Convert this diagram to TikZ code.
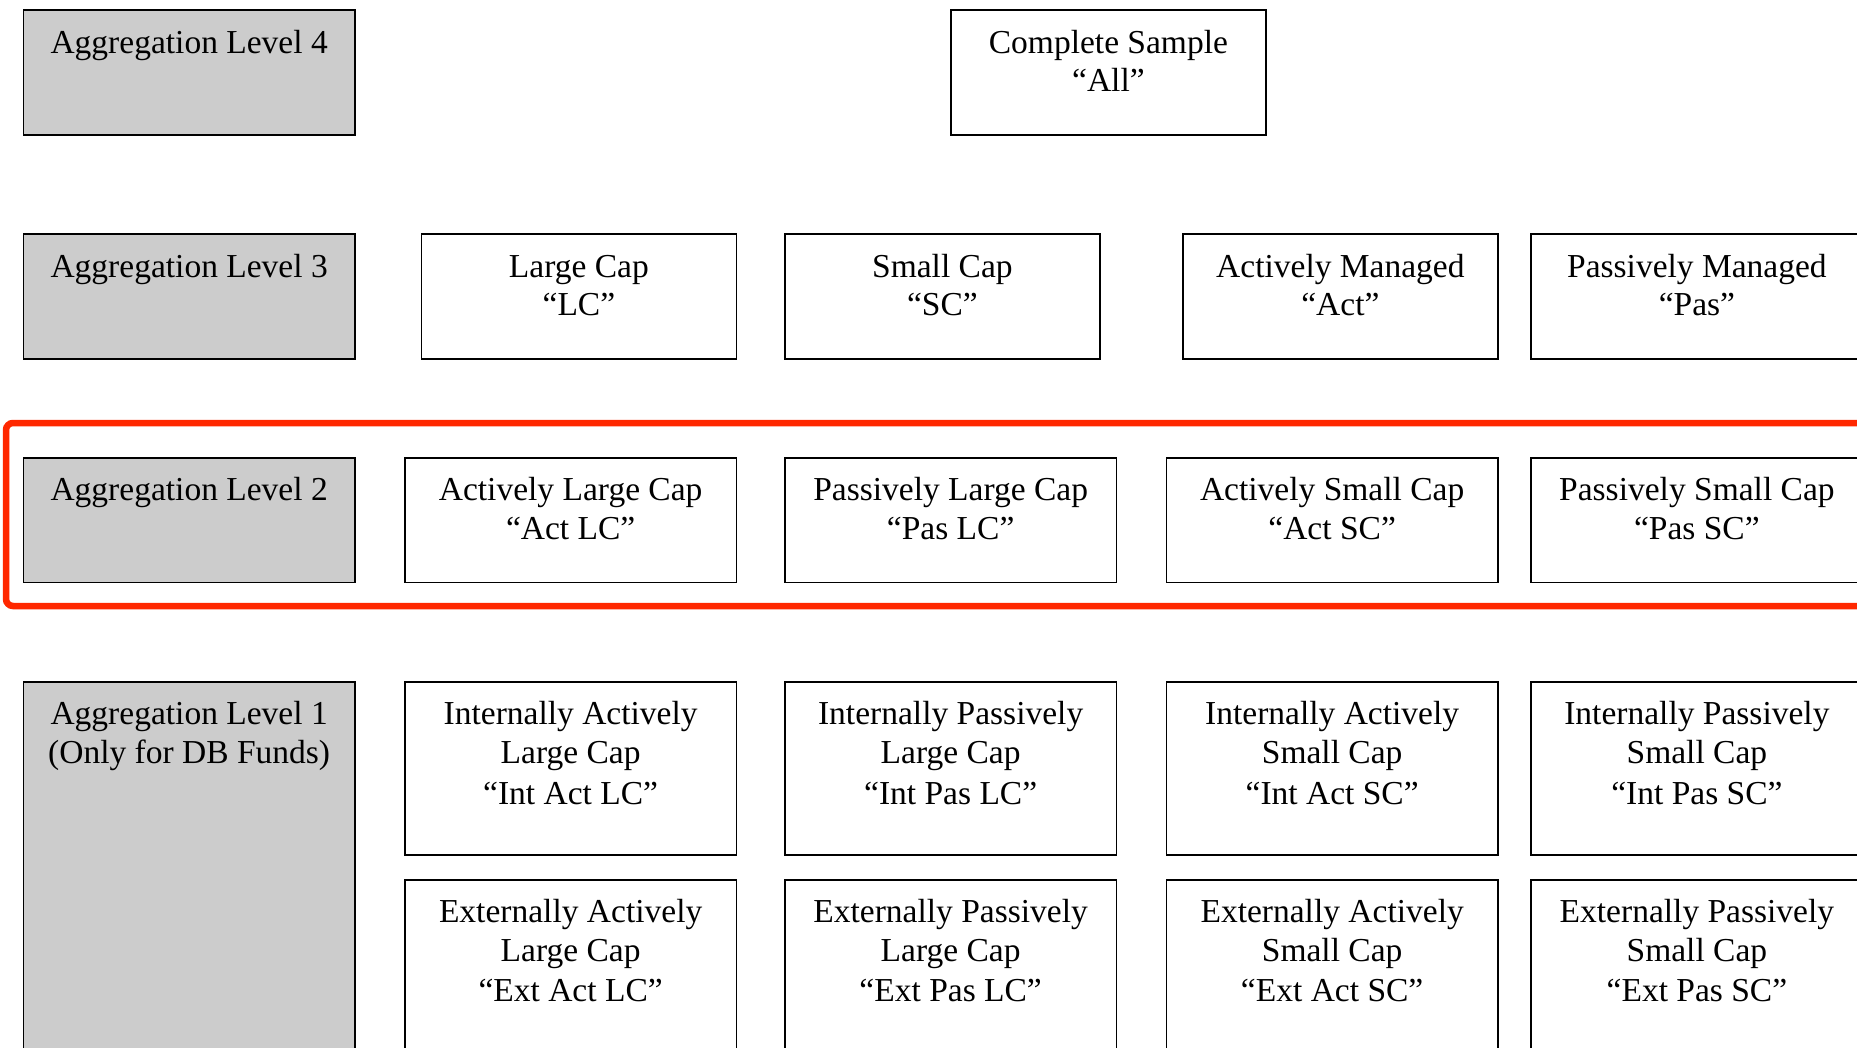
\documentclass[tikz,border=0pt]{standalone}
\usepackage{fontspec}
\setmainfont{Liberation Serif}
\definecolor{lvlgray}{HTML}{CCCCCC}
\definecolor{hired}{RGB}{255,40,0}
\newcommand{\boxtxt}[3]{\parbox[t][#2][t]{#1}{\centering\rule{0pt}{43pt}#3}}
\begin{document}
\begin{tikzpicture}[x=1pt,y=-1pt,
  cell/.style={draw=black, line width=1.8pt, inner sep=0pt, anchor=north west, font=\fontsize{33.5}{38.5}\selectfont},
  lvl/.style={cell, fill=lvlgray},
  hl/.style={draw=hired, line width=6.5pt, rounded corners=7pt}]
\useasboundingbox (0,0) rectangle (1857,1048);
\clip (0,0) rectangle (1857,1048);
\fill[white] (0,0) rectangle (1857,1048);
% level labels
\node[lvl] (l4) at (22.5,9.5) {\boxtxt{331.5pt}{124.5pt}{Aggregation Level 4}};
\node[lvl] (l3) at (22.5,233.5) {\boxtxt{331.5pt}{124.5pt}{Aggregation Level 3}};
\node[lvl] (l2) at (22.5,457) {\boxtxt{331.5pt}{124.5pt}{Aggregation Level 2}};
\node[lvl] (l1) at (22.5,681) {\boxtxt{331.5pt}{420pt}{Aggregation Level 1\\(Only for DB Funds)}};
% level 4
\node[cell] (all) at (950,9.5) {\boxtxt{315pt}{124.5pt}{Complete Sample\\“All”}};
% level 3
\node[cell] (lc) at (420.5,233.5) {\boxtxt{315pt}{124.5pt}{Large Cap\\“LC”}};
\node[cell] (sc) at (784,233.5) {\boxtxt{315pt}{124.5pt}{Small Cap\\“SC”}};
\node[cell] (act) at (1182,233.5) {\boxtxt{315pt}{124.5pt}{Actively Managed\\“Act”}};
\node[cell] (pas) at (1530,233.5) {\boxtxt{332pt}{124.5pt}{Passively Managed\\“Pas”}};
% level 2
\node[cell] (actlc) at (404,457) {\boxtxt{331.5pt}{124.5pt}{Actively Large Cap\\“Act LC”}};
\node[cell] (paslc) at (784,457) {\boxtxt{331.5pt}{124.5pt}{Passively Large Cap\\“Pas LC”}};
\node[cell] (actsc) at (1165.5,457) {\boxtxt{331.5pt}{124.5pt}{Actively Small Cap\\“Act SC”}};
\node[cell] (passc) at (1530,457) {\boxtxt{332pt}{124.5pt}{Passively Small Cap\\“Pas SC”}};
% level 1 internal
\node[cell] (intactlc) at (404,681) {\boxtxt{331.5pt}{173pt}{Internally Actively\\Large Cap\\[3pt]“Int Act LC”}};
\node[cell] (intpaslc) at (784,681) {\boxtxt{331.5pt}{173pt}{Internally Passively\\Large Cap\\[3pt]“Int Pas LC”}};
\node[cell] (intactsc) at (1165.5,681) {\boxtxt{331.5pt}{173pt}{Internally Actively\\Small Cap\\[3pt]“Int Act SC”}};
\node[cell] (intpassc) at (1530,681) {\boxtxt{332pt}{173pt}{Internally Passively\\Small Cap\\[3pt]“Int Pas SC”}};
% level 1 external
\node[cell] (extactlc) at (404,879) {\boxtxt{331.5pt}{200pt}{Externally Actively\\Large Cap\\[2pt]“Ext Act LC”}};
\node[cell] (extpaslc) at (784,879) {\boxtxt{331.5pt}{200pt}{Externally Passively\\Large Cap\\[2pt]“Ext Pas LC”}};
\node[cell] (extactsc) at (1165.5,879) {\boxtxt{331.5pt}{200pt}{Externally Actively\\Small Cap\\[2pt]“Ext Act SC”}};
\node[cell] (extpassc) at (1530,879) {\boxtxt{332pt}{200pt}{Externally Passively\\Small Cap\\[2pt]“Ext Pas SC”}};
% highlight frame around level 2
\draw[hl] (6,423) rectangle (1920,606);
\end{tikzpicture}
\end{document}
